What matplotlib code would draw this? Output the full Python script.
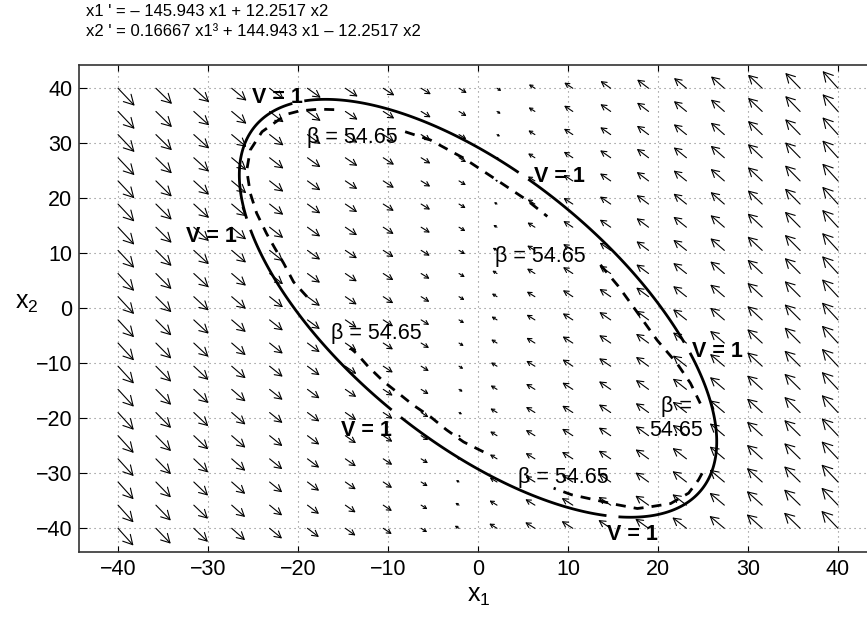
import numpy as np
import matplotlib
matplotlib.use('Agg')
import matplotlib.pyplot as plt

plt.rcParams['font.family'] = ['Liberation Sans', 'DejaVu Sans']
plt.rcParams['mathtext.fontset'] = 'custom'
plt.rcParams['mathtext.rm'] = 'Liberation Sans'
plt.rcParams['mathtext.it'] = 'Liberation Sans'

# system from the title: x1' = a11 x1 + a12 x2 ; x2' = c3 x1^3 + a21 x1 + a22 x2
a11, a12 = -145.943, 12.2517
c3, a21, a22 = 0.16667, 144.943, -12.2517
title_lines = ["x1 ' = \u2013 145.943 x1 + 12.2517 x2",
               "x2 ' = 0.16667 x1\u00b3 + 144.943 x1 \u2013 12.2517 x2"]

# direction field grid
grid_x = [-40, -35.79, -31.58, -27.37, -23.16, -18.95, -14.74, -10.53, -6.32, -2.11,
          2.11, 6.32, 10.53, 14.74, 18.95, 23.16, 27.37, 31.58, 35.79, 40]
grid_y = grid_x
dir_power = 0.55   # arrows are drawn compressed, as in the picture
len_power = 0.4
arrow_scale = 0.0728

# V = x' P x, contour V = 1
P11, P12, P22 = 0.0024, 0.00107, 0.00117
V_level = 1.0
V_gap_x = [-19.9, -25.4, 5.05, -9.15, 23.3, 15.0]
V_gap_y = [37.4, 15.3, 24.05, -19.25, -7.1, -37.65]

# beta = 54.65 curve (dashed), nan = label gap
beta_x = [-8.1, -5.3, -1.6, 2.1, 5.4, 7.7, np.nan,
          13.6, 15.6, 17.5, 19.9, 22.1, 23.6, 24.7, np.nan,
          24.9, 24.5, 23.4, 21.4, 19.1, 17.7, 15.1, 13.2, 10.4, 8.4, np.nan,
          0.6, -1.6, -3.5, -5.3, -7.2, -8.8, -10.5, -12.2, -13.5, -14.2, np.nan,
          -19.0, -20.5, -21.6, -22.6, -23.5, -24.6, -25.3, -25.7, -25.3, -24.0,
          -22.2, -21.2, -19.8, -17.7, -15.7]
beta_y = [32.1, 30.6, 27.3, 23.3, 19.7, 16.7, np.nan,
          7.9, 4.0, -0.3, -5.8, -10.0, -13.6, -17.3, np.nan,
          -30.0, -31.2, -33.6, -35.5, -36.1, -36.4, -35.6, -34.9, -33.9, -32.7, np.nan,
          -26.1, -24.3, -22.1, -19.7, -17.6, -15.5, -13.3, -10.6, -8.2, -7.2, np.nan,
          2.1, 4.8, 8.2, 11.0, 13.6, 17.3, 20.9, 25.1, 28.8, 32.1,
          34.2, 35.3, 35.9, 36.2, 36.1]

# contour labels
label_text = ['V = 1', '\u03b2 = 54.65', 'V = 1', 'V = 1', '\u03b2 = 54.65', '\u03b2 = 54.65',
              'V = 1', 'V = 1', '\u03b2 =\n54.65', '\u03b2 = 54.65', 'V = 1']
label_x = [-22.25, -14.0, -29.65, 9.1, 6.95, -11.25, -12.35, 26.55, 22.0, 9.5, 17.2]
label_y = [37.3, 30.0, 12.1, 23.0, 8.5, -5.5, -23.3, -8.8, -23.3, -31.8, -42.1]
label_bold = [True, False, True, True, False, False, True, True, False, False, True]

ticks = [-40, -30, -20, -10, 0, 10, 20, 30, 40]

fig = plt.figure(figsize=(8.67, 6.19), dpi=100)
ax = fig.add_axes([0.0915, 0.1083, 0.9197, 0.7873])
ax.set_xlim(-44.3, 44.3)
ax.set_ylim(-44.3, 44.3)
ax.set_xticks(ticks)
ax.set_yticks(ticks)
ax.grid(True, linestyle=(0, (1, 3.5)), color='0.5', linewidth=0.8)
ax.set_axisbelow(True)
ax.tick_params(direction='in', top=True, right=True, labelsize=15.5, width=0.8, pad=5)
ax.tick_params(axis='x', length=4.1)
ax.tick_params(axis='y', length=5.8)
for s in ax.spines.values():
    s.set_linewidth(1.2)
    s.set_color('#333333')

# direction field
for xi in grid_x:
    for yj in grid_y:
        u = a11 * xi + a12 * yj
        v = c3 * xi ** 3 + a21 * xi + a22 * yj
        cu = np.sign(u) * abs(u) ** dir_power
        cv = np.sign(v) * abs(v) ** dir_power
        n = np.hypot(cu, cv)
        if n == 0:
            continue
        size = arrow_scale * np.hypot(u, v) ** len_power
        du, dv = size * cu / n, size * cv / n
        p0 = ax.transData.transform((xi, yj))
        p1 = ax.transData.transform((xi + du, yj + dv))
        L = np.hypot(*(p1 - p0)) * 72.0 / fig.dpi
        ax.annotate('', xy=(xi + du, yj + dv), xytext=(xi, yj),
                    arrowprops=dict(arrowstyle='->,head_length=0.4,head_width=0.22',
                                    lw=0.8, color='k', shrinkA=0, shrinkB=0,
                                    mutation_scale=max(L, 1.0)))

# V = 1 ellipse with label gaps
g = np.linspace(-44.3, 44.3, 600)
X, Y = np.meshgrid(g, g)
V = P11 * X ** 2 + 2 * P12 * X * Y + P22 * Y ** 2
mask = np.zeros_like(V, dtype=bool)
for cx, cy in zip(V_gap_x, V_gap_y):
    mask |= ((X - cx) / 0.6) ** 2 + ((Y - cy) / 1.0) ** 2 < 1
ax.contour(X, Y, np.ma.masked_array(V, mask), levels=[V_level], colors='k',
           linewidths=2.0, zorder=3)

# beta curve
ax.plot(beta_x, beta_y, color='k', lw=2.0, linestyle=(0, (3.6, 2.9)), zorder=3)

for t, x, y, b in zip(label_text, label_x, label_y, label_bold):
    ax.text(x, y, t, fontsize=15.5, fontweight='bold' if b else 'normal',
            ha='center', va='baseline', multialignment='center', zorder=4)

fig.text(0.0992, 1 - 11 / 619, title_lines[0], fontsize=12, va='center', ha='left')
fig.text(0.0992, 1 - 31 / 619, title_lines[1], fontsize=12, va='center', ha='left')

fig.text(479 / 867, 1 - 596 / 619, '$x_1$', fontsize=18, ha='center', va='center')
fig.text(27 / 867, 1 - 303 / 619, '$x_2$', fontsize=18, ha='center', va='center')

fig.savefig('out.png', dpi=100)
